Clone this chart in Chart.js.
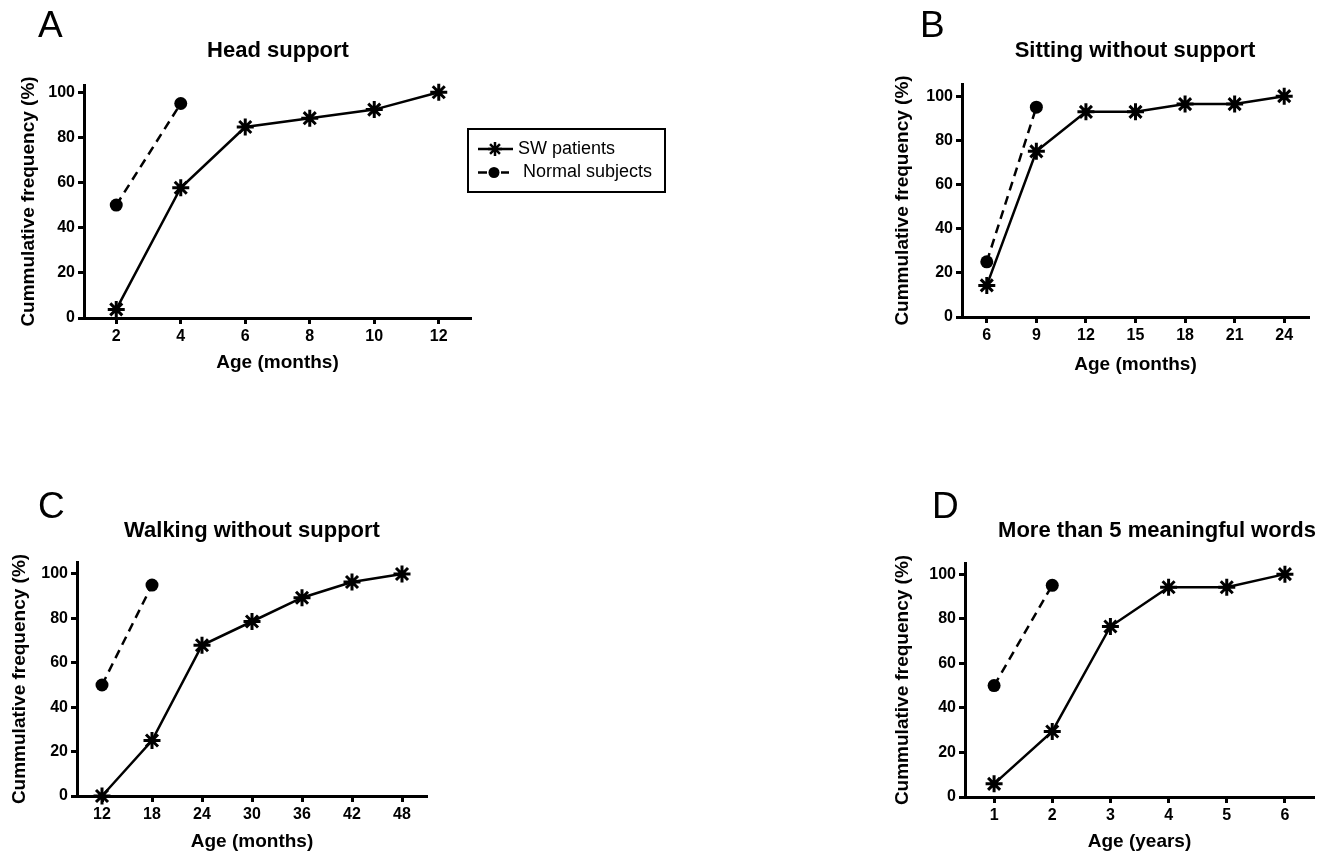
<!DOCTYPE html>
<html>
<head>
<meta charset="utf-8">
<title>Cumulative frequency of milestones</title>
<script src="https://cdn.jsdelivr.net/npm/chart.js@4.4.1/dist/chart.umd.min.js"></script>
<style>
  body { margin: 0; background: #fff; }
  #wrap { position: relative; width: 1333px; height: 853px; }
  #wrap canvas { position: absolute; left: 0; top: 0; }
</style>
</head>
<body>
<div id="wrap">
  <canvas id="chartA" width="1333" height="853"></canvas>
  <canvas id="chartB" width="1333" height="853"></canvas>
  <canvas id="chartC" width="1333" height="853"></canvas>
  <canvas id="chartD" width="1333" height="853"></canvas>
</div>
<script>
// =====================
// DATA
// =====================
const yTicks = [0, 20, 40, 60, 80, 100];
const seriesNames = ['SW patients', 'Normal subjects'];

// A - head support (months)
const headTicks = [2, 4, 6, 8, 10, 12];
const headAgeSW = [2, 4, 6, 8, 10, 12];
const headSW = [3.8, 57.7, 84.6, 88.5, 92.3, 100];
const headAgeNormal = [2, 4];
const headNormal = [50, 95];

// B - sitting without support (months)
const sitTicks = [6, 9, 12, 15, 18, 21, 24];
const sitAgeSW = [6, 9, 12, 15, 18, 21, 24];
const sitSW = [14.3, 75, 92.9, 92.9, 96.4, 96.4, 100];
const sitAgeNormal = [6, 9];
const sitNormal = [25, 95];

// C - walking without support (months)
const walkTicks = [12, 18, 24, 30, 36, 42, 48];
const walkAgeSW = [12, 18, 24, 30, 36, 42, 48];
const walkSW = [0, 25, 67.9, 78.6, 89.3, 96.4, 100];
const walkAgeNormal = [12, 18];
const walkNormal = [50, 95];

// D - more than 5 meaningful words (years)
const wordTicks = [1, 2, 3, 4, 5, 6];
const wordAgeSW = [1, 2, 3, 4, 5, 6];
const wordSW = [5.9, 29.4, 76.5, 94.1, 94.1, 100];
const wordAgeNormal = [1, 2];
const wordNormal = [50, 95];

// =====================
// HELPERS
// =====================
const FONT = '"Liberation Sans", Arial, Helvetica, sans-serif';
const W = 1333, H = 853;

function toPoints(xs, ys) {
    return xs.map((x, i) => ({ x: x, y: ys[i] }));
}

// legend, only drawn on panel A
const legendBox = {
    id: 'legendBox',
    afterDraw(chart) {
        const ctx = chart.ctx;
        ctx.save();
        ctx.strokeStyle = '#000';
        ctx.lineWidth = 2;
        ctx.strokeRect(468, 129, 197, 63);

        // SW row
        ctx.lineWidth = 2.5;
        ctx.beginPath();
        ctx.moveTo(478, 149);
        ctx.lineTo(513, 149);
        ctx.stroke();
        Chart.helpers.drawPoint(ctx, { pointStyle: 'star', radius: 7, rotation: 0, borderWidth: 3 }, 495, 149);

        // Normal row
        ctx.beginPath();
        ctx.moveTo(478, 172.5);
        ctx.lineTo(487, 172.5);
        ctx.moveTo(501, 172.5);
        ctx.lineTo(509, 172.5);
        ctx.stroke();
        ctx.fillStyle = '#000';
        ctx.beginPath();
        ctx.arc(494, 172.5, 5.5, 0, Math.PI * 2);
        ctx.fill();

        ctx.font = '18px ' + FONT;
        ctx.textBaseline = 'middle';
        ctx.textAlign = 'left';
        ctx.fillText(seriesNames[0], 518, 149);
        ctx.fillText(seriesNames[1], 523, 172.5);
        ctx.restore();
    }
};

function makePanel(canvasId, p) {
    const titleSize = 19;
    const lh = titleSize * 1.2;
    const yScaleLeft = p.yTitleX - lh / 2 - 2;
    const yScaleWidth = p.plot.left - yScaleLeft;
    const xScaleHeight = p.xTitleY - p.plot.bottom + lh / 2 + 2;

    const panelText = {
        id: 'panelText',
        afterDraw(chart) {
            const ctx = chart.ctx;
            ctx.save();
            ctx.fillStyle = '#000';
            ctx.textBaseline = 'middle';
            ctx.textAlign = 'left';
            ctx.font = '37px ' + FONT;
            ctx.fillText(p.letter, p.letterX, p.letterY);
            ctx.textAlign = 'center';
            ctx.font = 'bold 22px ' + FONT;
            ctx.fillText(p.title, p.titleX, p.titleY);
            ctx.restore();
        }
    };

    const axisCommon = {
        type: 'linear',
        grid: { drawOnChartArea: false, drawTicks: true, tickLength: 6, tickWidth: 3, tickColor: '#000' },
        border: { display: true, color: '#000', width: 3 },
        ticks: { color: '#000', font: { family: FONT, size: 16, weight: 'bold' }, padding: 3, autoSkip: false, maxRotation: 0 }
    };

    const plugins = [panelText];
    if (p.legend) plugins.push(legendBox);

    const ctx = document.getElementById(canvasId).getContext('2d');
    return new Chart(ctx, {
        type: 'line',
        data: {
            datasets: [
                {
                    label: seriesNames[0],
                    data: toPoints(p.xSW, p.ySW),
                    borderColor: '#000', borderWidth: 2.5, tension: 0, fill: false,
                    pointStyle: 'star', pointRadius: 8.5, pointBorderWidth: 3,
                    pointBorderColor: '#000', pointBackgroundColor: '#000', clip: false
                },
                {
                    label: seriesNames[1],
                    data: toPoints(p.xNormal, p.yNormal),
                    borderColor: '#000', borderWidth: 2.5, borderDash: [9, 6], tension: 0, fill: false,
                    pointStyle: 'circle', pointRadius: 6.5, pointBorderWidth: 0,
                    pointBackgroundColor: '#000', clip: false
                }
            ]
        },
        options: {
            responsive: false,
            animation: false,
            events: [],
            layout: {
                padding: {
                    left: yScaleLeft,
                    right: W - p.plot.right,
                    top: p.plot.top,
                    bottom: H - p.plot.bottom - xScaleHeight
                }
            },
            plugins: { legend: { display: false }, tooltip: { enabled: false }, title: { display: false } },
            scales: {
                x: {
                    ...axisCommon,
                    min: p.xMin, max: p.xMax,
                    afterBuildTicks: s => { s.ticks = p.xTicks.map(v => ({ value: v })); },
                    afterFit: s => { s.height = xScaleHeight; },
                    title: { display: true, text: p.xTitle, color: '#000', font: { family: FONT, size: titleSize, weight: 'bold' }, padding: { top: 0, bottom: 2 } }
                },
                y: {
                    ...axisCommon,
                    min: 0, max: p.yMax,
                    afterBuildTicks: s => { s.ticks = yTicks.map(v => ({ value: v })); },
                    afterFit: s => { s.width = yScaleWidth; },
                    title: { display: true, text: 'Cummulative frequency (%)', color: '#000', font: { family: FONT, size: titleSize, weight: 'bold' }, padding: { top: 2, bottom: 0 } }
                }
            }
        },
        plugins: plugins
    });
}

// =====================
// PANELS
// =====================
makePanel('chartA', {
    letter: 'A', letterX: 38, letterY: 27,
    title: 'Head support', titleX: 278, titleY: 51,
    plot: { left: 84, right: 471, top: 85, bottom: 318 },
    xMin: 1, xMax: 13, yMax: 103.2, xTicks: headTicks,
    xSW: headAgeSW, ySW: headSW, xNormal: headAgeNormal, yNormal: headNormal,
    xTitle: 'Age (months)', xTitleY: 362.5, yTitleX: 28.5,
    legend: true
});

makePanel('chartB', {
    letter: 'B', letterX: 920, letterY: 27,
    title: 'Sitting without support', titleX: 1135, titleY: 51,
    plot: { left: 962, right: 1309, top: 84, bottom: 317 },
    xMin: 4.5, xMax: 25.5, yMax: 105.5, xTicks: sitTicks,
    xSW: sitAgeSW, ySW: sitSW, xNormal: sitAgeNormal, yNormal: sitNormal,
    xTitle: 'Age (months)', xTitleY: 365, yTitleX: 903
});

makePanel('chartC', {
    letter: 'C', letterX: 38, letterY: 508,
    title: 'Walking without support', titleX: 252, titleY: 531,
    plot: { left: 77, right: 427, top: 562, bottom: 796 },
    xMin: 9, xMax: 51, yMax: 105.4, xTicks: walkTicks,
    xSW: walkAgeSW, ySW: walkSW, xNormal: walkAgeNormal, yNormal: walkNormal,
    xTitle: 'Age (months)', xTitleY: 841.5, yTitleX: 20
});

makePanel('chartD', {
    letter: 'D', letterX: 932, letterY: 508,
    title: 'More than 5 meaningful words', titleX: 1157, titleY: 531,
    plot: { left: 965, right: 1314, top: 563, bottom: 797 },
    xMin: 0.5, xMax: 6.5, yMax: 105, xTicks: wordTicks,
    xSW: wordAgeSW, ySW: wordSW, xNormal: wordAgeNormal, yNormal: wordNormal,
    xTitle: 'Age (years)', xTitleY: 842, yTitleX: 903
});
</script>
</body>
</html>
